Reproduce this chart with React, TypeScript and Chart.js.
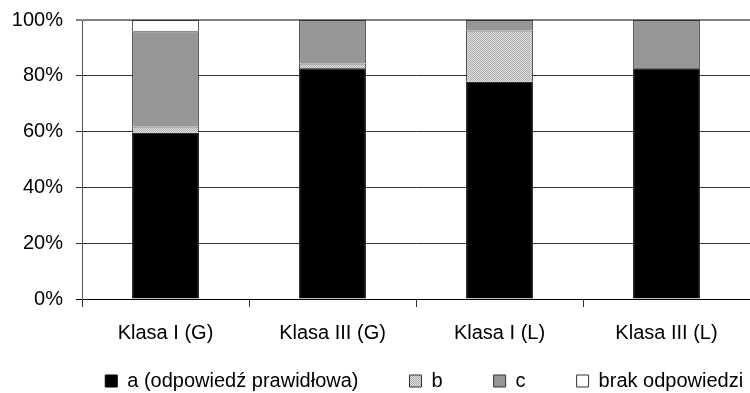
import React, { useEffect, useRef } from 'react';
import { Chart, registerables } from 'chart.js';

Chart.register(...registerables);

const categories = ['Klasa I (G)', 'Klasa III (G)', 'Klasa I (L)', 'Klasa III (L)'];
const seriesNames = ['a (odpowiedź prawidłowa)', 'b', 'c', 'brak odpowiedzi'];
const seriesA = [59.6, 82.7, 77.9, 82.7];
const seriesB = [2.2, 1.7, 18.3, 0];
const seriesC = [34.2, 15.6, 3.8, 17.3];
const seriesBrak = [4.0, 0, 0, 0];
const yTicks = [0, 20, 40, 60, 80, 100];

const FONT = "'Liberation Sans', Arial, sans-serif";

function makePattern(): CanvasPattern | string {
  const c = document.createElement('canvas');
  c.width = 2;
  c.height = 2;
  const g = c.getContext('2d');
  if (!g) return '#c8c8c8';
  g.fillStyle = '#e2e2e2';
  g.fillRect(0, 0, 2, 2);
  g.fillStyle = '#ababab';
  g.fillRect(0, 0, 1, 1);
  g.fillRect(1, 1, 1, 1);
  const p = g.createPattern(c, 'repeat');
  return p || '#c8c8c8';
}

// Shift the one-row legend to the right (under the plot) and place it near the bottom edge.
const legendPlacement = {
  id: 'legendPlacement',
  afterLayout(chart: any) {
    const lg = chart.legend;
    if (!lg) return;
    const area = chart.chartArea;
    const p = lg.options.labels.padding;
    const dx = area.left * 0.6;
    lg.left += dx;
    lg.right += dx;
    lg.top = chart.height - 22 - p;
    lg.bottom = chart.height;
    lg.height = lg.bottom - lg.top;
  },
};

export default function App() {
  const ref = useRef<HTMLCanvasElement | null>(null);

  useEffect(() => {
    const canvas = ref.current;
    if (!canvas) return;
    const pattern = makePattern();
    const chart = new Chart(canvas, {
      type: 'bar',
      data: {
        labels: categories,
        datasets: [
          { label: seriesNames[0], data: seriesA, backgroundColor: '#000000', borderColor: '#000000', borderWidth: 1 },
          { label: seriesNames[1], data: seriesB, backgroundColor: pattern as any, borderColor: '#333333', borderWidth: 1 },
          { label: seriesNames[2], data: seriesC, backgroundColor: '#969696', borderColor: '#333333', borderWidth: 1 },
          { label: seriesNames[3], data: seriesBrak, backgroundColor: '#ffffff', borderColor: '#333333', borderWidth: 1 },
        ],
      },
      plugins: [legendPlacement],
      options: {
        responsive: false,
        animation: false,
        devicePixelRatio: 1,
        layout: { padding: { top: 20, left: 0, right: 0, bottom: 0 } },
        datasets: {
          bar: { categoryPercentage: 1, barPercentage: 0.4 },
        },
        scales: {
          x: {
            stacked: true,
            grid: {
              display: true,
              offset: true,
              drawOnChartArea: false,
              drawTicks: true,
              tickLength: 8,
              color: '#333333',
            },
            border: { display: true, color: '#000000', width: 1 },
            ticks: {
              color: '#000000',
              padding: 14,
              font: { family: FONT, size: 20 },
              maxRotation: 0,
              autoSkip: false,
            },
            afterFit: (s: any) => {
              s.height = 50;
            },
          },
          y: {
            stacked: true,
            min: 0,
            max: 100,
            afterBuildTicks: (s: any) => {
              s.ticks = yTicks.map((v) => ({ value: v }));
            },
            grid: {
              color: (ctx: any) => (ctx.tick && ctx.tick.value === 100 ? '#808080' : ctx.tick && ctx.tick.value === 0 ? '#000000' : '#333333'),
              lineWidth: (ctx: any) => (ctx.tick && ctx.tick.value === 100 ? 2 : 1),
              tickLength: 6,
            },
            border: { display: true, color: '#555555', width: 1 },
            ticks: {
              color: '#000000',
              padding: 13,
              font: { family: FONT, size: 20 },
              callback: (v: any) => v + '%',
            },
            afterFit: (s: any) => {
              s.width = 82;
              s.paddingTop = 0;
              s.paddingBottom = 0;
            },
          },
        },
        plugins: {
          title: { display: false },
          tooltip: { enabled: false },
          legend: {
            display: true,
            position: 'bottom',
            maxHeight: 44,
            labels: {
              color: '#000000',
              boxWidth: 12,
              boxHeight: 12,
              padding: 51,
              font: { family: FONT, size: 20 },
            },
          },
        },
      },
    });
    return () => chart.destroy();
  }, []);

  return (
    <div style={{ position: 'fixed', left: 0, top: 0, width: 750, height: 393, background: '#ffffff' }}>
      <canvas ref={ref} width={750} height={393} style={{ width: 750, height: 393, display: 'block' }} />
    </div>
  );
}
